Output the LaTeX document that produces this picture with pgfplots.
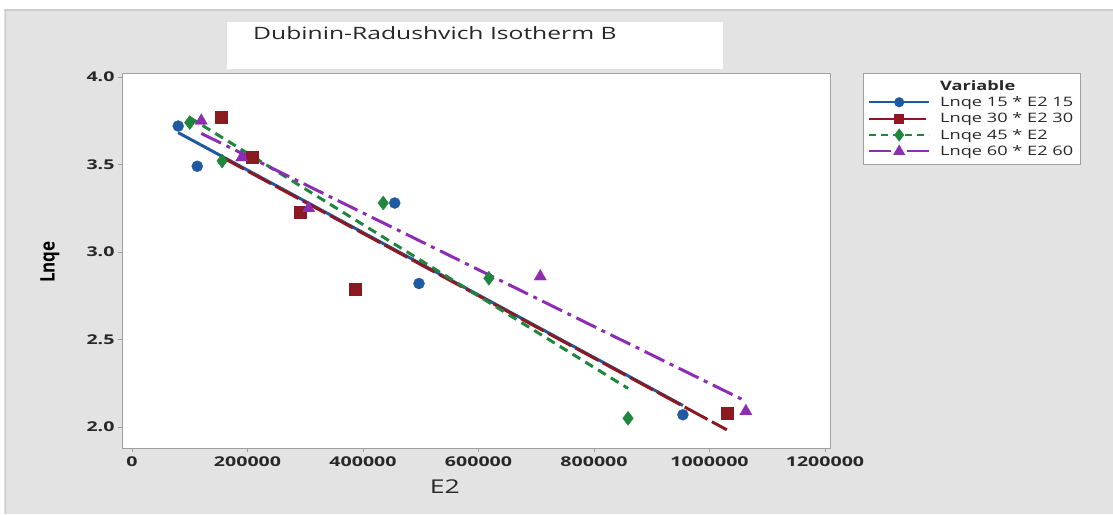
\documentclass[border=0pt]{standalone}
\usepackage{pgfplots}
\usepackage{pgfplotstable}
\pgfplotsset{compat=1.18}
\usepackage{fontspec}
\setmainfont{Open Sans}[FakeStretch=1.4]
\newfontfamily\titlefont{Open Sans}[FakeStretch=1.45]
\newfontfamily\tickfont{Open Sans}[FakeStretch=1.45]
\newfontfamily\labelfont{Open Sans}[FakeStretch=0.85]

\definecolor{bgGray}{RGB}{227,227,227}
\definecolor{edgeGray}{RGB}{205,205,205}
\definecolor{axGray}{RGB}{160,160,160}
\definecolor{txt}{RGB}{40,40,40}
\definecolor{sBlue}{RGB}{30,90,160}
\definecolor{sMaroon}{RGB}{140,24,34}
\definecolor{sGreen}{RGB}{30,135,60}
\definecolor{sPurple}{RGB}{140,45,180}

% Lnqe against E2 for each contact time
\pgfplotstableread{
x y
80000 3.72
113000 3.49
455000 3.28
497000 2.82
954000 2.07
}\tblA
\pgfplotstableread{
x y
154000 3.77
208000 3.54
291000 3.23
386000 2.79
1030000 2.08
}\tblB
\pgfplotstableread{
x y
100000 3.74
156000 3.52
435000 3.28
618000 2.85
859000 2.05
}\tblC
\pgfplotstableread{
x y
120000 3.75
190000 3.54
306000 3.25
707000 2.86
1063000 2.09
}\tblD

\begin{document}
\begin{tikzpicture}[x=1pt,y=1pt]
\path[use as bounding box] (0,0) rectangle (1113,514);
% panel background
\fill[bgGray] (4,0) rectangle (1113,504);
\draw[edgeGray, line width=1.2pt] (4,504) -- (1113,504);
\draw[edgeGray, line width=1pt] (5.5,0) -- (5.5,504);
% title box
\fill[white] (227,445) rectangle (723,492);
\node[anchor=west, text=txt, font=\titlefont\fontsize{17}{20}\selectfont, inner sep=0pt] at (253,481) {Dubinin-Radushvich Isotherm B};

\begin{axis}[
  at={(122pt,66pt)}, anchor=south west,
  scale only axis, width=708pt, height=375pt,
  xmin=-17300, xmax=1208700, ymin=1.88, ymax=4.023,
  axis background/.style={fill=white},
  axis line style={axGray, line width=0.8pt},
  xtick={0,200000,...,1200000}, ytick={2.0,2.5,...,4.0},
  tick align=outside, tick pos=left,
  major tick length=4pt,
  tick style={axGray, line width=0.8pt},
  scaled x ticks=false,
  /pgf/number format/assume math mode=true,
  xticklabel style={/pgf/number format/fixed, /pgf/number format/1000 sep={}, font=\tickfont\bfseries\fontsize{13.5}{15}\selectfont, text=txt, yshift=-1pt},
  yticklabel style={/pgf/number format/fixed, /pgf/number format/fixed zerofill, /pgf/number format/precision=1, font=\tickfont\bfseries\fontsize{13.5}{15}\selectfont, text=txt},
  xlabel={E2}, ylabel={\labelfont\bfseries Lnqe},
  xlabel style={at={(axis description cs:0.456,-0.104)}, anchor=center, font=\fontsize{19}{22}\selectfont, text=txt},
  ylabel style={at={(axis description cs:-0.102,0.496)}, anchor=center, font=\fontsize{20}{22}\selectfont, text=black},
  clip=false,
  legend style={at={(axis description cs:1.0466,1.0)}, anchor=north west,
    draw=axGray, fill=white, font=\fontsize{13}{15}\selectfont, text=txt,
    inner xsep=5pt, inner ysep=5pt, row sep=1pt,
    /tikz/every odd column/.append style={column sep=8pt}},
  legend cell align=left,
  legend image code/.code={
    \draw[#1, mark=none] (0pt,0pt) -- (60pt,0pt);
    \draw[#1, solid] plot coordinates {(30pt,0pt)};
  },
]
% fitted lines
\addplot[forget plot, sBlue, line width=3pt, mark=none]
  table[x=x, y={create col/linear regression={y=y}}] {\tblA};
\addplot[forget plot, sMaroon, line width=3pt, mark=none, dash pattern=on 26pt off 5pt]
  table[x=x, y={create col/linear regression={y=y}}] {\tblB};
\addplot[forget plot, sGreen, line width=3pt, mark=none, dash pattern=on 9pt off 6pt]
  table[x=x, y={create col/linear regression={y=y}}] {\tblC};
\addplot[forget plot, sPurple, line width=3pt, mark=none, dash pattern=on 22pt off 6pt on 4pt off 6pt]
  table[x=x, y={create col/linear regression={y=y}}] {\tblD};
% observations
\addplot[forget plot, only marks, mark=*, mark size=5.5pt, sBlue] table[x=x,y=y] {\tblA};
\addplot[forget plot, only marks, mark=square*, mark size=6pt, sMaroon] table[x=x,y=y] {\tblB};
\addplot[forget plot, only marks, mark=diamond*, mark size=7pt, sGreen] table[x=x,y=y] {\tblC};
\addplot[forget plot, only marks, mark=triangle*, mark size=7pt, sPurple] table[x=x,y=y] {\tblD};
% legend
\addlegendimage{empty legend}
\addlegendentry{\bfseries Variable}
\addlegendimage{sBlue, line width=2pt, mark=*, mark size=4pt}
\addlegendentry{Lnqe 15 * E2 15}
\addlegendimage{sMaroon, line width=2pt, mark=square*, mark size=4pt, dash pattern=on 26pt off 5pt}
\addlegendentry{Lnqe 30 * E2 30}
\addlegendimage{sGreen, line width=2pt, mark=diamond*, mark size=5pt, dash pattern=on 7pt off 5pt}
\addlegendentry{Lnqe 45 * E2}
\addlegendimage{sPurple, line width=2pt, mark=triangle*, mark size=5pt, dash pattern=on 22pt off 6pt on 4pt off 6pt}
\addlegendentry{Lnqe 60 * E2 60}
\end{axis}
\end{tikzpicture}
\end{document}
